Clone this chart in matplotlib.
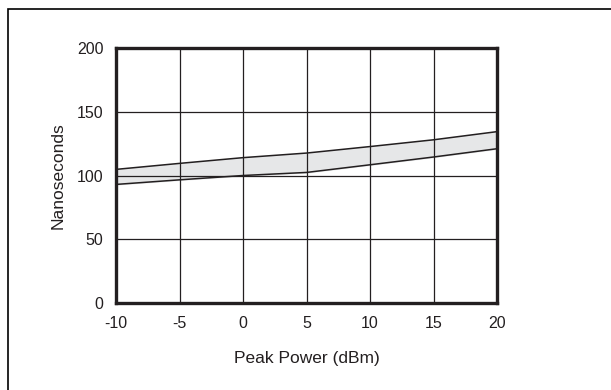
import matplotlib
matplotlib.use("Agg")
import matplotlib.pyplot as plt
from matplotlib.patches import Rectangle

plt.rcParams['font.family'] = ['Liberation Sans', 'DejaVu Sans']
plt.rcParams['axes.unicode_minus'] = False

power = [-10, -5, 0, 5, 10, 15, 20]
upper = [104.8, 109.5, 114, 117.6, 122.7, 128, 134.4]
lower = [93, 96.6, 100, 102.4, 108.4, 114.5, 121]
xticks = [-10, -5, 0, 5, 10, 15, 20]
yticks = [0, 50, 100, 150, 200]

fig = plt.figure(figsize=(6.11, 3.9), dpi=100)
fig.patches.append(Rectangle((8 / 611, -0.05), 1.2, 1 - 9 / 390 + 0.05,
                             transform=fig.transFigure, fill=False,
                             edgecolor='black', linewidth=1.2))

ax = fig.add_axes([116 / 611, 1 - 303 / 390, 381 / 611, 255 / 390])
ax.fill_between(power, lower, upper, color='#e6e7e8', zorder=1)
ax.plot(power, upper, color='#231f20', lw=1.1, zorder=3)
ax.plot(power, lower, color='#231f20', lw=1.1, zorder=3)

ax.set_xlim(-10, 20)
ax.set_ylim(0, 200)
ax.set_xticks(xticks)
ax.set_yticks(yticks)
ax.grid(True, color='#231f20', lw=0.9, zorder=2)
ax.set_axisbelow(False)
ax.tick_params(length=0, labelsize=11.5, colors='#231f20', pad=9)
for s in ax.spines.values():
    s.set_linewidth(2.4)
    s.set_color('#231f20')
    s.set_zorder(4)

ax.set_xlabel('Peak Power (dBm)', fontsize=12.5, color='#231f20', labelpad=15)
ax.set_ylabel('Nanoseconds', fontsize=12.5, color='#231f20', labelpad=8)

fig.savefig('out.png', dpi=100)
